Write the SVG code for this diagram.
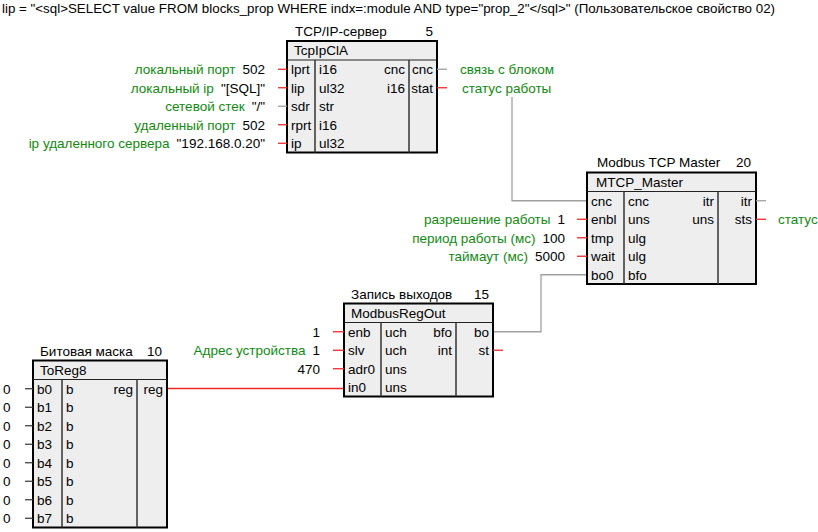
<svg xmlns="http://www.w3.org/2000/svg" width="818" height="532" viewBox="0 0 818 532">
<style>
text{font-family:"Liberation Sans",Arial,sans-serif;font-size:13.5px;fill:#000}
.g{fill:#118a11}
.e{text-anchor:end}
.box{fill:#eeeeee;stroke:#000;stroke-width:2}
.div{stroke:#333;stroke-width:1.5;fill:none}
.hd{stroke:#222;stroke-width:1;fill:none}
.r{stroke:#f02828;stroke-width:1.3;fill:none}
.gr{stroke:#a0a0a0;stroke-width:1.3;fill:none}
.k{stroke:#333;stroke-width:1.2;fill:none}
</style>
<rect width="818" height="532" fill="#fff"/>
<text x="2" y="13" textLength="773" lengthAdjust="spacingAndGlyphs">lip = "&lt;sql&gt;SELECT value FROM blocks_prop WHERE indx=:module AND type="prop_2"&lt;/sql&gt;" (Пользовательское свойство 02)</text>

<g id="connectors">
<path class="gr" d="M512,97 V200.75 H587"/>
<path class="gr" d="M587,274.75 H541 V331.75 H493"/>
<path class="r" d="M167,388.5 H344"/>
</g>

<g id="tcpipcla">
<text x="295" y="36">TCP/IP-сервер</text>
<text class="e" x="433" y="36">5</text>
<rect class="box" x="287" y="41" width="150" height="111.5"/>
<line class="hd" x1="287" y1="60" x2="437" y2="60"/>
<line class="div" x1="315" y1="60" x2="315" y2="152.5"/>
<line class="div" x1="409" y1="60" x2="409" y2="152.5"/>
<text x="294" y="55">TcpIpClA</text>
<text x="291" y="74">lprt</text><text x="319" y="74">i16</text><text class="e" x="405" y="74">cnc</text><text class="e" x="433" y="74">cnc</text>
<text x="291" y="92.5">lip</text><text x="319" y="92.5">ul32</text><text class="e" x="405" y="92.5">i16</text><text class="e" x="433" y="92.5">stat</text>
<text x="291" y="111">sdr</text><text x="319" y="111">str</text>
<text x="291" y="129.5">rprt</text><text x="319" y="129.5">i16</text>
<text x="291" y="148">ip</text><text x="319" y="148">ul32</text>
<line class="r" x1="278" y1="69.25" x2="287" y2="69.25"/>
<line class="r" x1="278" y1="87.75" x2="287" y2="87.75"/>
<line class="gr" x1="278" y1="106.25" x2="287" y2="106.25"/>
<line class="r" x1="278" y1="124.75" x2="287" y2="124.75"/>
<line class="r" x1="278" y1="143.25" x2="287" y2="143.25"/>
<line class="gr" x1="437" y1="69.25" x2="447" y2="69.25"/>
<line class="r" x1="437" y1="87.75" x2="447" y2="87.75"/>
<text class="e" x="265" y="74"><tspan class="g">локальный порт</tspan><tspan dx="7">502</tspan></text>
<text class="e" x="265" y="92.5"><tspan class="g">локальный ip</tspan><tspan dx="7">"[SQL]"</tspan></text>
<text class="e" x="265" y="111"><tspan class="g">сетевой стек</tspan><tspan dx="7">"/"</tspan></text>
<text class="e" x="265" y="129.5"><tspan class="g">удаленный порт</tspan><tspan dx="7">502</tspan></text>
<text class="e" x="265" y="148"><tspan class="g">ip удаленного сервера</tspan><tspan dx="7">"192.168.0.20"</tspan></text>
<text class="g" x="460" y="74">связь с блоком</text>
<text class="g" x="462" y="92.5">статус работы</text>
</g>

<g id="mtcp_master">
<text x="597" y="167">Modbus TCP Master</text>
<text class="e" x="751" y="167">20</text>
<rect class="box" x="587" y="172.5" width="169" height="111.5"/>
<line class="hd" x1="587" y1="191.5" x2="756" y2="191.5"/>
<line class="div" x1="624" y1="191.5" x2="624" y2="284"/>
<line class="div" x1="718" y1="191.5" x2="718" y2="284"/>
<text x="596" y="187">MTCP_Master</text>
<text x="591" y="205.5">cnc</text><text x="628" y="205.5">cnc</text><text class="e" x="714" y="205.5">itr</text><text class="e" x="752" y="205.5">itr</text>
<text x="591" y="224">enbl</text><text x="628" y="224">uns</text><text class="e" x="714" y="224">uns</text><text class="e" x="752" y="224">sts</text>
<text x="591" y="242.5">tmp</text><text x="628" y="242.5">ulg</text>
<text x="591" y="261">wait</text><text x="628" y="261">ulg</text>
<text x="591" y="279.5">bo0</text><text x="628" y="279.5">bfo</text>
<line class="r" x1="577" y1="219.25" x2="587" y2="219.25"/>
<line class="r" x1="577" y1="237.75" x2="587" y2="237.75"/>
<line class="r" x1="577" y1="256.25" x2="587" y2="256.25"/>
<line class="gr" x1="756" y1="200.75" x2="766" y2="200.75"/>
<line class="r" x1="756" y1="219.25" x2="766" y2="219.25"/>
<text class="e" x="565" y="224"><tspan class="g">разрешение работы</tspan><tspan dx="7">1</tspan></text>
<text class="e" x="565" y="242.5"><tspan class="g">период работы (мс)</tspan><tspan dx="7">100</tspan></text>
<text class="e" x="565" y="261"><tspan class="g">таймаут (мс)</tspan><tspan dx="7">5000</tspan></text>
<text class="g" x="778" y="224">статус</text>
</g>

<g id="modbusregout">
<text x="351" y="299">Запись выходов</text>
<text class="e" x="489" y="299">15</text>
<rect class="box" x="344" y="303.5" width="149" height="93"/>
<line class="hd" x1="344" y1="322.5" x2="493" y2="322.5"/>
<line class="div" x1="381" y1="322.5" x2="381" y2="396.5"/>
<line class="div" x1="456" y1="322.5" x2="456" y2="396.5"/>
<text x="351" y="318">ModbusRegOut</text>
<text x="348" y="336.5">enb</text><text x="385" y="336.5">uch</text><text class="e" x="452" y="336.5">bfo</text><text class="e" x="489" y="336.5">bo</text>
<text x="348" y="355">slv</text><text x="385" y="355">uch</text><text class="e" x="452" y="355">int</text><text class="e" x="489" y="355">st</text>
<text x="348" y="373.5">adr0</text><text x="385" y="373.5">uns</text>
<text x="348" y="392">in0</text><text x="385" y="392">uns</text>
<line class="r" x1="333" y1="331.75" x2="344" y2="331.75"/>
<line class="r" x1="333" y1="350.25" x2="344" y2="350.25"/>
<line class="r" x1="333" y1="368.75" x2="344" y2="368.75"/>
<line class="r" x1="493" y1="350.25" x2="503" y2="350.25"/>
<text class="e" x="320" y="336.5">1</text>
<text class="e" x="320" y="355"><tspan class="g">Адрес устройства</tspan><tspan dx="7">1</tspan></text>
<text class="e" x="320" y="373.5">470</text>
</g>

<g id="toreg8">
<text x="40" y="356">Битовая маска</text>
<text class="e" x="162" y="356">10</text>
<rect class="box" x="33" y="360.5" width="134" height="167"/>
<line class="hd" x1="33" y1="379.5" x2="167" y2="379.5"/>
<line class="div" x1="62" y1="379.5" x2="62" y2="527.5"/>
<line class="div" x1="137" y1="379.5" x2="137" y2="527.5"/>
<text x="40" y="375">ToReg8</text>
<text x="37" y="393.5">b0</text><text x="66" y="393.5">b</text><text class="e" x="133" y="393.5">reg</text><text class="e" x="163" y="393.5">reg</text>
<text x="37" y="412">b1</text><text x="66" y="412">b</text>
<text x="37" y="430.5">b2</text><text x="66" y="430.5">b</text>
<text x="37" y="449">b3</text><text x="66" y="449">b</text>
<text x="37" y="467.5">b4</text><text x="66" y="467.5">b</text>
<text x="37" y="486">b5</text><text x="66" y="486">b</text>
<text x="37" y="504.5">b6</text><text x="66" y="504.5">b</text>
<text x="37" y="523">b7</text><text x="66" y="523">b</text>
<line class="k" x1="25" y1="388.75" x2="33" y2="388.75"/>
<line class="k" x1="25" y1="407.25" x2="33" y2="407.25"/>
<line class="k" x1="25" y1="425.75" x2="33" y2="425.75"/>
<line class="k" x1="25" y1="444.25" x2="33" y2="444.25"/>
<line class="k" x1="25" y1="462.75" x2="33" y2="462.75"/>
<line class="k" x1="25" y1="481.25" x2="33" y2="481.25"/>
<line class="k" x1="25" y1="499.75" x2="33" y2="499.75"/>
<line class="k" x1="25" y1="518.25" x2="33" y2="518.25"/>
<text x="3" y="393.5">0</text>
<text x="3" y="412">0</text>
<text x="3" y="430.5">0</text>
<text x="3" y="449">0</text>
<text x="3" y="467.5">0</text>
<text x="3" y="486">0</text>
<text x="3" y="504.5">0</text>
<text x="3" y="523">0</text>
</g>
</svg>
